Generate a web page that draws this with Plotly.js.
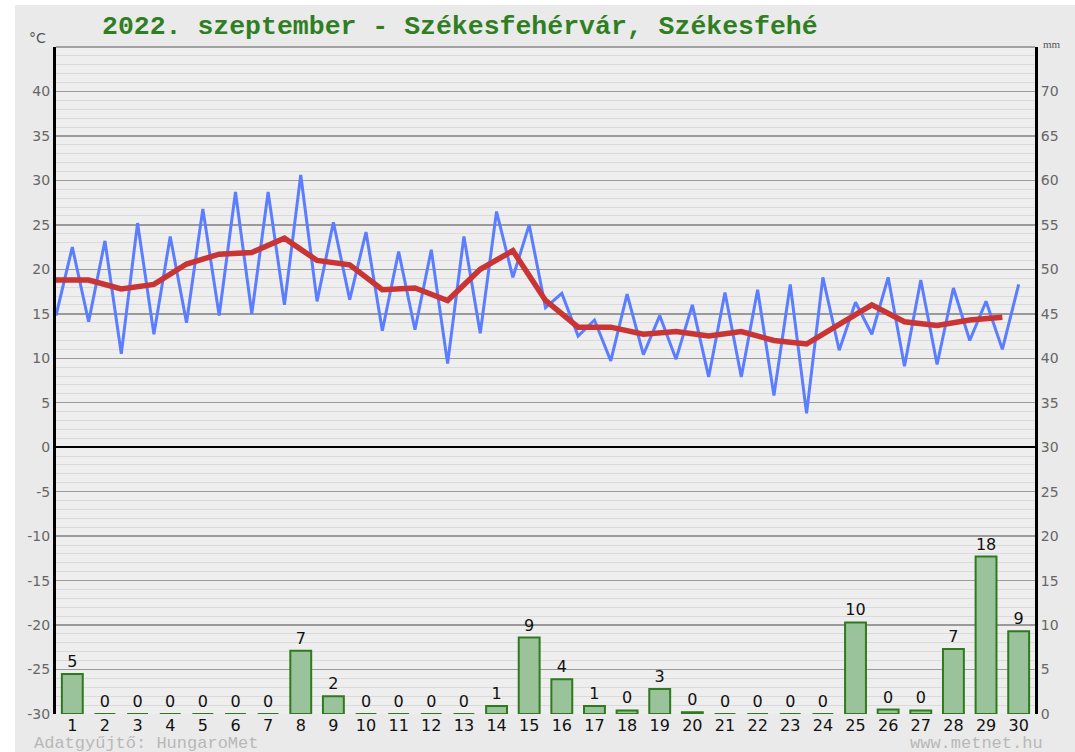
<!DOCTYPE html>
<html>
<head>
<meta charset="utf-8">
<script src="https://cdn.plot.ly/plotly-3.0.1.min.js"></script>
<style>html,body{margin:0;padding:0;background:#fff;}#chart{width:1075px;height:752px;}</style>
</head>
<body>
<div id="chart"></div>
<script>
// Days of the month
const days = [1,2,3,4,5,6,7,8,9,10,11,12,13,14,15,16,17,18,19,20,21,22,23,24,25,26,27,28,29,30];
// Daily minimum temperature (°C)
const tMin = [14.8,14.1,10.5,12.7,14.0,14.8,15.0,16.0,16.4,16.6,13.1,13.2,9.4,12.8,19.1,15.7,12.5,9.7,10.4,9.9,7.9,7.9,5.8,3.8,10.9,12.7,9.1,9.3,12.0,11.0];
// Daily maximum temperature (°C)
const tMax = [22.5,23.2,25.2,23.7,26.8,28.7,28.7,30.6,25.3,24.2,22.0,22.2,23.7,26.5,25.0,17.3,14.3,17.2,14.8,16.0,17.4,17.7,18.3,19.1,16.3,19.1,18.8,17.9,16.4,18.3];
// Daily mean temperature (°C)
const tMean = [18.8,18.8,17.8,18.3,20.6,21.7,21.9,23.5,21.0,20.5,17.7,17.9,16.5,20.0,22.1,16.5,13.5,13.5,12.7,13.0,12.5,13.0,12.0,11.6,13.8,16.0,14.1,13.7,14.3,14.6];
// Daily precipitation (mm)
const precip = [4.5,0,0,0,0,0,0,7.1,2.0,0,0,0,0,0.9,8.6,3.9,0.9,0.4,2.8,0.2,0,0,0,0,10.3,0.5,0.4,7.3,17.7,9.3];
const precipLabels = ['5','0','0','0','0','0','0','7','2','0','0','0','0','1','9','4','1','0','3','0','0','0','0','0','10','0','0','7','18','9'];
const leftTicks = [-30,-25,-20,-15,-10,-5,0,5,10,15,20,25,30,35,40];
const rightTicks = [0,5,10,15,20,25,30,35,40,45,50,55,60,65,70];
const titleText = '2022. szeptember - Székesfehérvár, Székesfehé';

// Min at the start of each day (d-0.5), max at day d
const zx = [], zy = [];
days.forEach((d, i) => { zx.push(d - 0.5, d); zy.push(tMin[i], tMax[i]); });
const meanX = days.map(d => d - 0.5);

const traces = [
  {
    type: 'bar', x: days, y: precip, yaxis: 'y2', width: 0.64,
    marker: {color: '#9bc39b', line: {color: '#2e7a1c', width: 2}},
    text: precipLabels, textposition: 'outside', cliponaxis: false,
    textfont: {family: 'DejaVu Sans', size: 16, color: '#111'},
    hoverinfo: 'skip'
  },
  {
    type: 'scatter', mode: 'lines', x: zx, y: zy, yaxis: 'y',
    line: {color: '#5b7dff', width: 3}, hoverinfo: 'skip'
  },
  {
    type: 'scatter', mode: 'lines', x: meanX, y: tMean, yaxis: 'y',
    line: {color: '#c93434', width: 5.5}, hoverinfo: 'skip'
  }
];

const layout = {
  width: 1075, height: 752,
  margin: {l: 56, r: 40, t: 47, b: 38},
  paper_bgcolor: '#eaeaea', plot_bgcolor: '#eeeeee',
  showlegend: false,
  bargap: 0.36,
  xaxis: {
    range: [0.5, 30.5], tickvals: days, ticktext: days.map(String),
    showgrid: false, zeroline: false, showline: false, ticks: '',
    tickfont: {family: 'DejaVu Sans', size: 16, color: '#111'}
  },
  yaxis: {
    range: [-30, 45], tickmode: 'array', tickvals: leftTicks,
    ticktext: leftTicks.map(String),
    showgrid: true, gridcolor: '#9a9a9a', gridwidth: 1.5,
    minor: {tickmode: 'linear', tick0: 0, dtick: 1, showgrid: true, gridcolor: '#dadada', gridwidth: 1},
    zeroline: true, zerolinecolor: '#000', zerolinewidth: 2,
    showline: true, linecolor: '#000', linewidth: 3, ticks: '',
    tickfont: {family: 'DejaVu Sans', size: 14, color: '#666'}
  },
  yaxis2: {
    range: [0, 75], overlaying: 'y', side: 'right', tickmode: 'array', tickvals: rightTicks,
    showgrid: false, zeroline: false, showline: true, linecolor: '#000', linewidth: 3, ticks: '',
    tickfont: {family: 'DejaVu Sans', size: 14, color: '#666'}
  },
  shapes: [
    {type: 'rect', xref: 'paper', yref: 'paper', x0: -0.1, x1: -0.0419, y0: -0.1, y1: 1.1, fillcolor: '#fff', line: {width: 0}, layer: 'below'},
    {type: 'rect', xref: 'paper', yref: 'paper', x0: -0.1, x1: 1.1, y0: 1.0631, y1: 1.1, fillcolor: '#fff', line: {width: 0}, layer: 'below'},
    {type: 'line', xref: 'paper', yref: 'paper', x0: 0, x1: 1, y0: 1, y1: 1, line: {color: '#8a8a8a', width: 1.5}}
  ],
  annotations: [
    {text: titleText, xref: 'paper', yref: 'paper', x: 0.045, y: 1.03, xanchor: 'left', yanchor: 'middle', showarrow: false,
     font: {family: 'Liberation Mono', size: 26.5, color: '#2f7f22', weight: 'bold'}},
    {text: '°C', xref: 'paper', yref: 'paper', x: -0.008, y: 0.998, xanchor: 'right', yanchor: 'bottom', showarrow: false,
     font: {family: 'DejaVu Sans', size: 14, color: '#555'}},
    {text: 'mm', xref: 'paper', yref: 'paper', x: 1.006, y: 0.993, xanchor: 'left', yanchor: 'bottom', showarrow: false,
     font: {family: 'Liberation Serif', size: 11, color: '#555'}},
    {text: 'Adatgyűjtő: HungaroMet', xref: 'paper', yref: 'paper', x: -0.025, y: -0.044, xanchor: 'left', yanchor: 'middle', showarrow: false,
     font: {family: 'Liberation Mono', size: 17, color: '#b8b8b8'}},
    {text: 'www.metnet.hu', xref: 'paper', yref: 'paper', x: 1.01, y: -0.044, xanchor: 'right', yanchor: 'middle', showarrow: false,
     font: {family: 'Liberation Mono', size: 17, color: '#b8b8b8'}}
  ]
};

Plotly.newPlot('chart', traces, layout, {staticPlot: true, displayModeBar: false});
</script>
</body>
</html>
